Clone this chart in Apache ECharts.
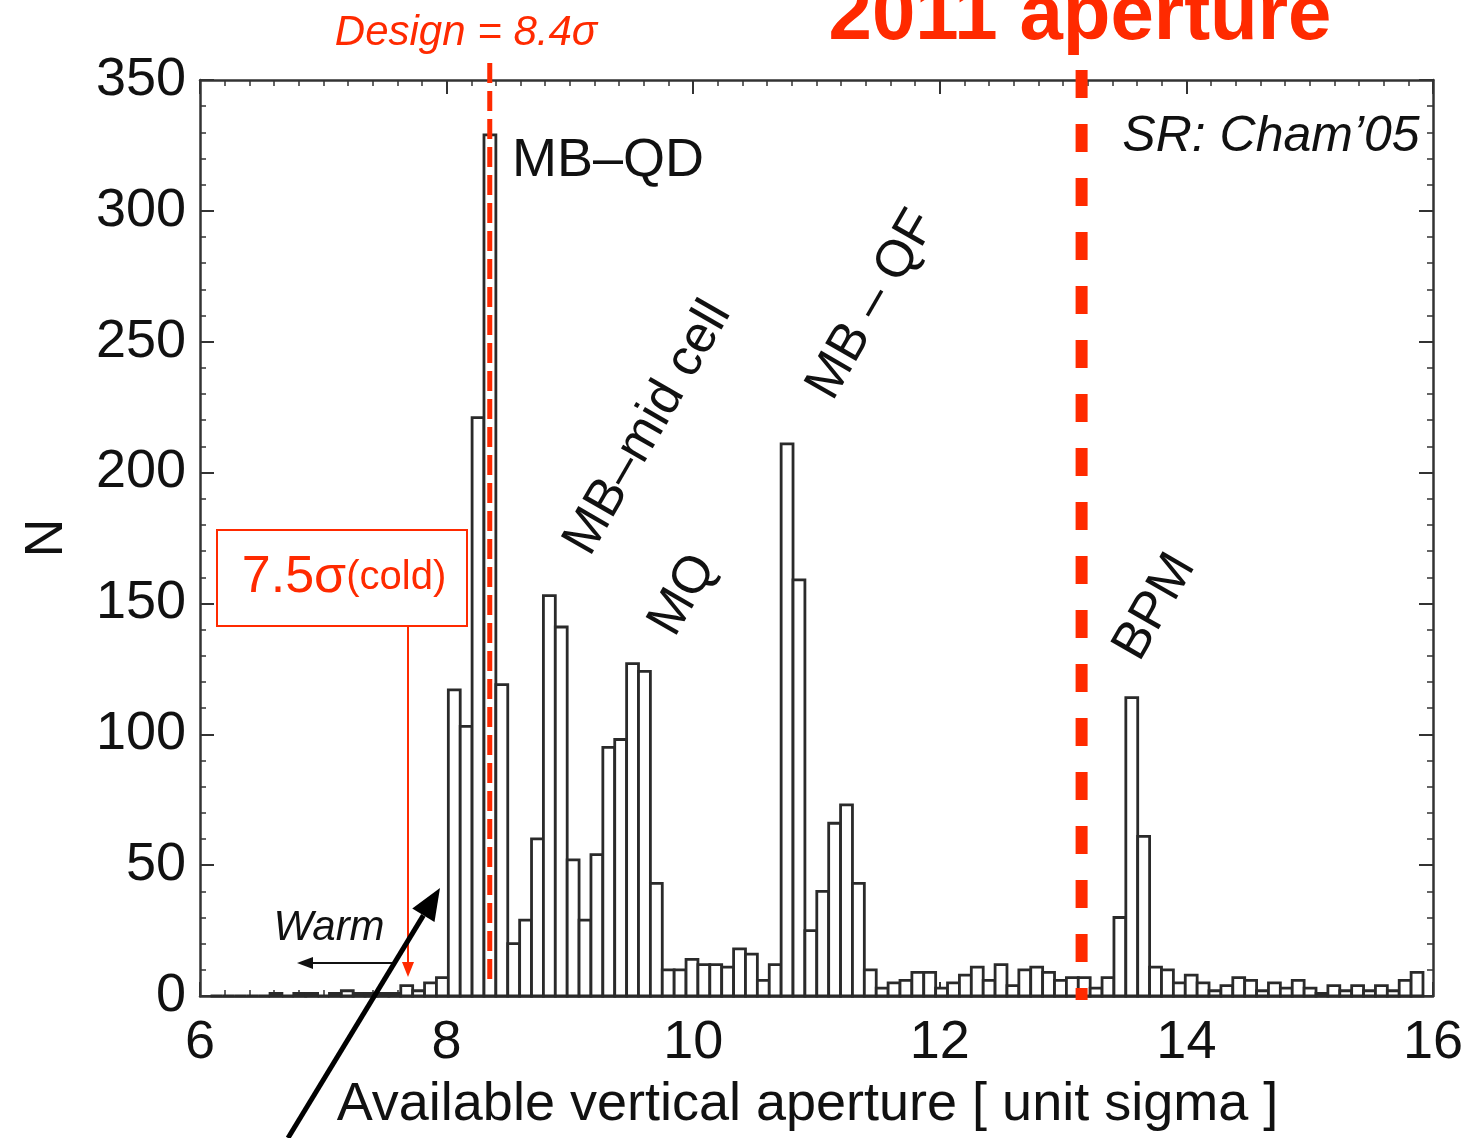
<!DOCTYPE html>
<html><head><meta charset="utf-8">
<script src="https://cdn.jsdelivr.net/npm/echarts@6/dist/echarts.min.js"></script>
<style>html,body{margin:0;padding:0;background:#fff}#c{width:1467px;height:1138px}</style>
</head><body><div id="c"></div>
<script>
// ---- data ----
const binStart = 6.086;      // left edge of the first histogram bin (sigma)
const binWidth = 0.0964;     // bin width (sigma)
const counts = [
  0,0,0,0,0, 1,0,1,1,0, 1,2,1,1,1, 1,4,2,5,7,
  117,103,221,329,119,20,29,60,153,141,
  52,29,54,95,98,127,124,43,10,10,
  14,12,12,11,18,16,6,12,211,159,
  25,40,66,73,43,10,3,5,6,9,
  9,3,5,8,11,6,12,4,10,11,
  9,6,7,7,3,7,30,114,61,11,
  10,5,8,5,2,4,7,6,2,5,
  3,6,3,1,4,2,4,2,4,2,
  6,9
];
const xMin = 6, xMax = 16, xStep = 2;
const yMin = 0, yMax = 350, yStep = 50;
const designSigma = 8.35;
const aperture2011 = 13.15;
const xTitle = 'Available vertical aperture [ unit sigma ]';
const yTitle = 'N';

const RED = '#ff2a00';
const FONT = "'Liberation Sans', Arial, Helvetica, sans-serif";

const bins = counts.map((c, i) => [binStart + i * binWidth, binStart + (i + 1) * binWidth, c]);

const chart = echarts.init(document.getElementById('c'), null, {renderer: 'canvas'});

function axisCommon(extra) {
  return Object.assign({
    type: 'value',
    axisLine: {show: true, onZero: false, lineStyle: {color: '#333', width: 2.5}},
    axisTick: {show: true, inside: true, length: 14, lineStyle: {color: '#333', width: 2}},
    splitLine: {show: false},
    minorSplitLine: {show: false}
  }, extra);
}

chart.setOption({
  animation: false,
  backgroundColor: '#fff',
  textStyle: {fontFamily: FONT},
  grid: {left: 200, right: 34, top: 80, bottom: 142, containLabel: false},
  xAxis: [
    axisCommon({min: xMin, max: xMax, interval: xStep, position: 'bottom',
      minorTick: {show: true, splitNumber: 10, length: 6, lineStyle: {color: '#333', width: 1.5}},
      axisLabel: {fontSize: 54, color: '#111', margin: 20, fontFamily: FONT},
      name: xTitle, nameLocation: 'middle', nameGap: 82,
      nameTextStyle: {fontSize: 54, color: '#111', fontFamily: FONT, padding: [0, 18, 0, 0]}}),
    axisCommon({min: xMin, max: xMax, interval: xStep, position: 'top',
      minorTick: {show: true, splitNumber: 10, length: 6, lineStyle: {color: '#333', width: 1.5}},
      axisLabel: {show: false}})
  ],
  yAxis: [
    axisCommon({min: yMin, max: yMax, interval: yStep, position: 'left',
      minorTick: {show: true, splitNumber: 5, length: 6, lineStyle: {color: '#333', width: 1.5}},
      axisLabel: {fontSize: 54, color: '#111', margin: 14, fontFamily: FONT},
      name: yTitle, nameLocation: 'middle', nameGap: 126, nameRotate: 90,
      nameTextStyle: {fontSize: 54, color: '#111', fontFamily: FONT}}),
    axisCommon({min: yMin, max: yMax, interval: yStep, position: 'right',
      minorTick: {show: true, splitNumber: 5, length: 6, lineStyle: {color: '#333', width: 1.5}},
      axisLabel: {show: false}})
  ],
  series: [{
    type: 'custom',
    xAxisIndex: 0, yAxisIndex: 0,
    data: bins,
    encode: {x: [0, 1], y: 2},
    z: 2,
    renderItem: function (params, api) {
      const p0 = api.coord([api.value(0), api.value(2)]);
      const p1 = api.coord([api.value(1), 0]);
      return {
        type: 'rect',
        shape: {x: p0[0], y: p0[1], width: p1[0] - p0[0], height: p1[1] - p0[1]},
        style: {fill: '#fff', stroke: '#2a2a2a', lineWidth: 2.8}
      };
    }
  }]
});

const px = v => chart.convertToPixel({xAxisIndex: 0}, v);
const xd = px(designSigma), xa = px(aperture2011);
const deg = Math.PI / 180;

function txt(x, y, text, size, opts) {
  opts = opts || {};
  return {
    type: 'text', x: x, y: y, rotation: (opts.rot || 0) * deg, z: 100,
    style: {
      text: text, x: 0, y: 0,
      fill: opts.color || '#111',
      font: (opts.style || '') + ' ' + (opts.weight || '') + ' ' + size + 'px ' + FONT,
      align: opts.align || 'center', verticalAlign: 'middle',
      textAlign: opts.align || 'center', textVerticalAlign: 'middle'
    }
  };
}

const tip = [440, 888], tail = [288, 1138];
const dx = tip[0] - tail[0], dy = tip[1] - tail[1], L = Math.hypot(dx, dy);
const ux = dx / L, uy = dy / L, nx = -uy, ny = ux;
const base = [tip[0] - 32 * ux, tip[1] - 32 * uy];

chart.setOption({
  graphic: [
    // design line
    {type: 'line', z: 50, shape: {x1: xd, y1: 63, x2: xd, y2: 985},
      style: {stroke: RED, lineWidth: 5, lineDash: [20, 8]}},
    // 2011 aperture line
    {type: 'line', z: 50, shape: {x1: xa, y1: 70, x2: xa, y2: 1000},
      style: {stroke: RED, lineWidth: 12, lineDash: [28, 26]}},
    txt(466, 33, 'Design = 8.4σ', 42, {color: RED, style: 'italic'}),
    txt(1080, 17, '2011 aperture', 78, {color: RED, weight: 'bold'}),
    txt(608, 161, 'MB–QD', 54),
    txt(1271, 137, 'SR: Cham’05', 50, {style: 'italic'}),
    txt(648, 428, 'MB–mid cell', 52, {rot: 60}),
    txt(683, 595, 'MQ', 52, {rot: 60}),
    txt(872, 305, 'MB – QF', 52, {rot: 60}),
    txt(1155, 607, 'BPM', 52, {rot: 60}),
    // 7.5 sigma box
    {type: 'rect', z: 60, shape: {x: 217, y: 530, width: 250, height: 96},
      style: {fill: '#fff', stroke: RED, lineWidth: 2}},
    {type: 'text', z: 61, x: 344, y: 578,
      style: {text: '{a|7.5σ}{b|(cold)}', x: 0, y: 0, align: 'center', verticalAlign: 'middle',
        textAlign: 'center', textVerticalAlign: 'middle',
        rich: {a: {fontSize: 52, fill: RED, fontFamily: FONT}, b: {fontSize: 40, fill: RED, fontFamily: FONT}}}},
    {type: 'line', z: 60, shape: {x1: 408, y1: 626, x2: 408, y2: 966},
      style: {stroke: RED, lineWidth: 2}},
    {type: 'polygon', z: 60, shape: {points: [[402, 962], [414, 962], [408, 977]]}, style: {fill: RED}},
    // warm
    txt(329, 928, 'Warm', 42, {style: 'italic'}),
    {type: 'line', z: 60, shape: {x1: 396, y1: 963, x2: 310, y2: 963}, style: {stroke: '#111', lineWidth: 2}},
    {type: 'polygon', z: 60, shape: {points: [[297, 963], [313, 957], [313, 969]]}, style: {fill: '#111'}},
    // big arrow
    {type: 'line', z: 60, shape: {x1: tail[0], y1: tail[1], x2: base[0], y2: base[1]},
      style: {stroke: '#000', lineWidth: 5}},
    {type: 'polygon', z: 60, shape: {points: [tip,
      [base[0] + 13 * nx, base[1] + 13 * ny], [base[0] - 13 * nx, base[1] - 13 * ny]]},
      style: {fill: '#000'}}
  ]
});
</script>
</body></html>
